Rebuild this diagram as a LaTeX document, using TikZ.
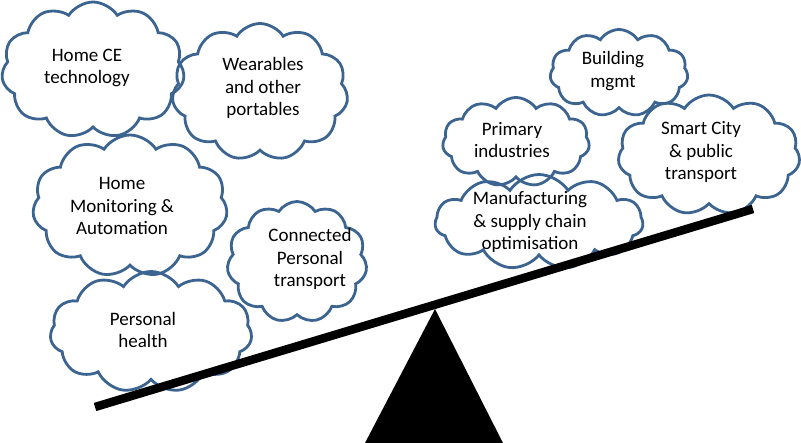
\documentclass[tikz,border=0pt]{standalone}
\usepackage{fontspec}
\setmainfont{Carlito}
\usepackage{tikz}
\usetikzlibrary{shapes,positioning}
\definecolor{cloudblue}{HTML}{3C6491}
\tikzset{
  area/.style={cloud, cloud puffs=11, cloud puff arc=115, cloud ignores aspect,
    draw=cloudblue, line width=2.8pt, inner sep=0pt},
  areatext/.style={align=center, font=\fontsize{19}{22.5}\selectfont},
  beam/.style={line width=8.5pt}
}

\begin{document}
\begin{tikzpicture}[x=1pt,y=-1pt]
  \useasboundingbox (0,0) rectangle (801,443);
  % left side: consumer
  \node[area, minimum width=183, minimum height=136] (homece) at (93,70) {};
  \node[area, minimum width=176, minimum height=137] (wear) at (260,92) {};
  \node[area, minimum width=195, minimum height=142] (homemon) at (130,206) {};
  \node[area, minimum width=140, minimum height=121] (conn) at (297,262) {};
  \node[area, minimum width=202, minimum height=121] (health) at (151,332) {};
  \node[areatext] (homece-t) at (87,68) {Home CE\\technology};
  \node[areatext] (wear-t) at (263,88) {Wearables\\and other\\portables};
  \node[areatext] (homemon-t) at (122,206) {Home\\Monitoring \&\\Automation};
  \node[areatext] (conn-t) at (310,259) {Connected\\Personal\\transport};
  \node[areatext] (health-t) at (143,330) {Personal\\health};
  % right side: industrial
  \node[area, minimum width=138, minimum height=87] (bldg) at (619,73) {};
  \node[area, minimum width=147, minimum height=89] (prim) at (516,142) {};
  \node[area, minimum width=182, minimum height=120] (smart) at (709,155) {};
  \node[area, minimum width=208, minimum height=95] (manuf) at (539,222) {};
  \node[areatext] (bldg-t) at (613,71) {Building\\mgmt};
  \node[areatext] (prim-t) at (512,140) {Primary\\industries};
  \node[areatext] (smart-t) at (701,152) {Smart City\\\& public\\transport};
  \node[areatext] (manuf-t) at (530,222) {Manufacturing\\\& supply chain\\optimisation};
  % seesaw
  \coordinate (beamL) at (95,407);
  \coordinate (beamR) at (753,209);
  \coordinate (apex) at (435,309);
  \coordinate (baseL) at (365,443);
  \coordinate (baseR) at (503,443);
  \draw[beam] (beamL) -- (beamR);
  \fill (baseL) -- (apex) -- (baseR) -- cycle;
\end{tikzpicture}
\end{document}
